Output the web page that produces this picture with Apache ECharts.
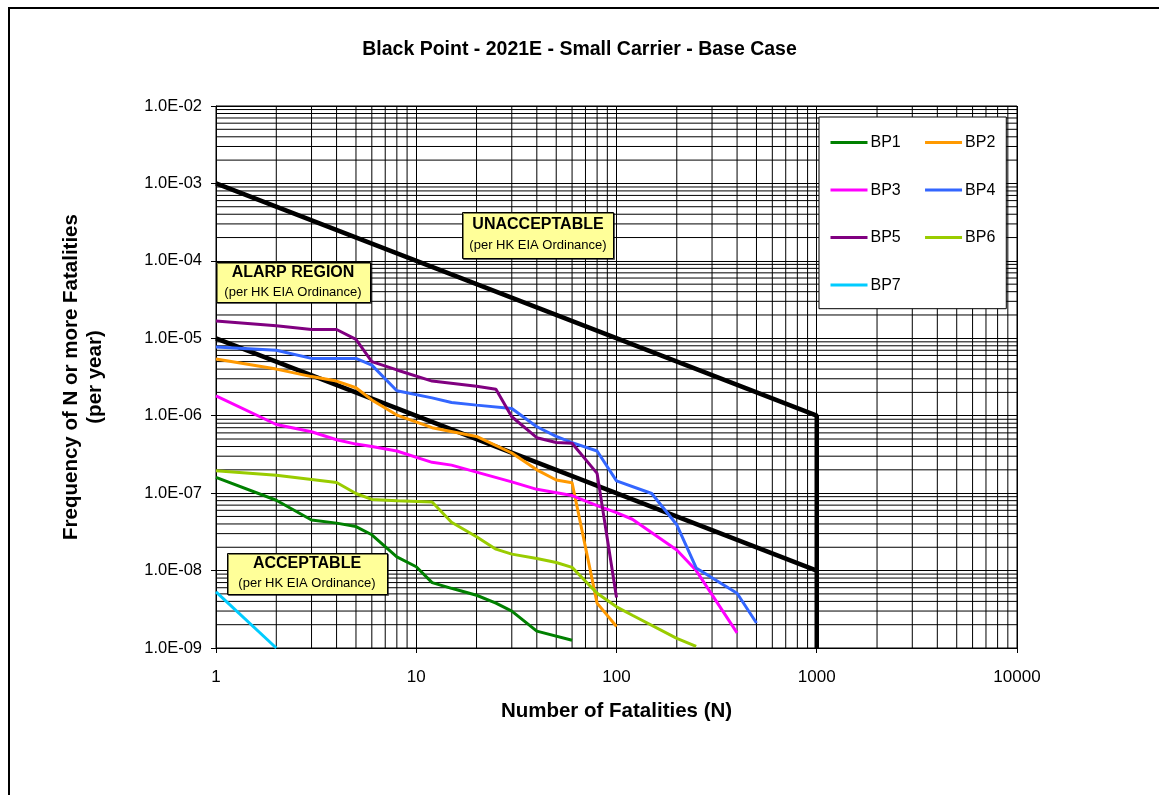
<!DOCTYPE html>
<html><head><meta charset="utf-8">
<script src="https://cdn.jsdelivr.net/npm/echarts@6/dist/echarts.min.js"></script>
<style>html,body{margin:0;padding:0;background:#fff}#c{width:1159px;height:795px}</style>
</head><body><div id="c"></div>
<script>
const FONT = 'Arial, "Liberation Sans", sans-serif';

// ---- data ----
const seriesNames = ['BP1','BP2','BP3','BP4','BP5','BP6','BP7'];
const bp1N = [1,2,3,4,5,6,8,10,12,15,20,25,30,40,60];
const bp1F = [1.6e-7,8.1e-8,4.5e-8,4.1e-8,3.7e-8,2.9e-8,1.5e-8,1.12e-8,7.0e-9,5.9e-9,4.8e-9,3.8e-9,3.0e-9,1.65e-9,1.26e-9];
const bp2N = [1,2,3,4,5,6,8,12,20,30,40,50,60,80,100];
const bp2F = [5.4e-6,4.0e-6,3.2e-6,2.8e-6,2.3e-6,1.6e-6,1.02e-6,7.0e-7,5.4e-7,3.3e-7,2.0e-7,1.48e-7,1.36e-7,3.8e-9,1.9e-9];
const bp3N = [1,2,3,4,5,6,8,12,15,20,30,40,60,80,100,120,200,250,400];
const bp3F = [1.8e-6,7.7e-7,6.2e-7,4.9e-7,4.3e-7,4.0e-7,3.5e-7,2.5e-7,2.3e-7,1.87e-7,1.4e-7,1.12e-7,9.3e-8,6.9e-8,5.6e-8,4.6e-8,1.84e-8,1.0e-8,1.57e-9];
const bp4N = [1,2,3,5,6,8,12,15,20,30,40,50,60,80,100,150,200,250,400,500];
const bp4F = [7.7e-6,7.0e-6,5.5e-6,5.5e-6,4.5e-6,2.1e-6,1.7e-6,1.48e-6,1.37e-6,1.24e-6,7.2e-7,5.4e-7,4.5e-7,3.5e-7,1.44e-7,9.9e-8,3.9e-8,1.08e-8,5.1e-9,2.1e-9];
const bp5N = [1,2,3,4,5,6,8,12,20,25,30,40,50,60,80,100];
const bp5F = [1.67e-5,1.45e-5,1.3e-5,1.3e-5,9.7e-6,5.0e-6,3.9e-6,2.8e-6,2.4e-6,2.2e-6,9.7e-7,5.2e-7,4.5e-7,4.4e-7,1.8e-7,4.5e-9];
const bp6N = [1,2,4,5,6,8,12,15,20,25,30,40,50,60,80,100,120,200,250];
const bp6F = [1.94e-7,1.7e-7,1.37e-7,9.9e-8,8.3e-8,8.0e-8,7.7e-8,4.2e-8,2.73e-8,1.89e-8,1.63e-8,1.43e-8,1.27e-8,1.1e-8,5.1e-9,3.4e-9,2.65e-9,1.33e-9,1.05e-9];
const bp7N = [1,2];
const bp7F = [5.3e-9,1.0e-9];
const upperN = [1,1000,1000];
const upperF = [1e-3,1e-6,1e-9];
const lowerN = [1,1000];
const lowerF = [1e-5,1e-8];
const yTickLabels = ['1.0E-09','1.0E-08','1.0E-07','1.0E-06','1.0E-05','1.0E-04','1.0E-03','1.0E-02'];
const xTickLabels = ['1','10','100','1000','10000'];

const colors = ['#008000','#FF9900','#FF00FF','#3366FF','#800080','#99CC00','#00CCFF'];
const allN = [bp1N,bp2N,bp3N,bp4N,bp5N,bp6N,bp7N];
const allF = [bp1F,bp2F,bp3F,bp4F,bp5F,bp6F,bp7F];
const zip = (a,b) => a.map((v,i)=>[v,b[i]]);

// minor grid values (2..9 x each decade)
const minorX = [], minorY = [];
for (let k=0;k<4;k++) for (let m=2;m<=9;m++) minorX.push(m*Math.pow(10,k));
for (let k=-9;k<-2;k++) for (let m=2;m<=9;m++) minorY.push(m*Math.pow(10,k));

const chart = echarts.init(document.getElementById('c'), null, {renderer:'canvas'});
const gridStyle = {color:'#000', width:1};
const vGrid = minorX.map(v=>({type:'line', data:[[v,1e-9],[v,1e-2]], symbol:'none', silent:true, z:1,
  lineStyle:gridStyle, emphasis:{disabled:true}}));
const hGrid = minorY.map(v=>({type:'line', data:[[1,v],[10000,v]], symbol:'none', silent:true, z:1,
  lineStyle:gridStyle, emphasis:{disabled:true}}));
const dataSeries = seriesNames.map((n,i)=>({
  name:n, type:'line', data: zip(allN[i],allF[i]), symbol:'none', showSymbol:false,
  lineStyle:{color:colors[i], width:3}, itemStyle:{color:colors[i]}, z:10, silent:true
}));

const option = {
  animation:false,
  backgroundColor:'#fff',
  title:{text:'Black Point - 2021E - Small Carrier - Base Case', left:'center', top:35,
    textStyle:{fontFamily:FONT, fontSize:19.5, fontWeight:'bold', color:'#000'}},
  grid:{left:216, top:106, width:801, height:542, show:true, borderColor:'#000', borderWidth:1, backgroundColor:'#fff'},
  legend:{
    data:seriesNames, left:819, top:117, width:170, orient:'horizontal',
    padding:[14,11,12,11.5], itemGap:24.3, itemWidth:37, itemHeight:3, icon:'rect',
    borderColor:'#000', borderWidth:1, backgroundColor:'#fff',
    textStyle:{fontFamily:FONT, fontSize:16, color:'#000', lineHeight:23.2, padding:[0,0,0,-2]},
    selectedMode:false
  },
  xAxis:{type:'log', logBase:10, min:1, max:10000,
    name:'Number of Fatalities (N)', nameLocation:'middle', nameGap:53,
    nameTextStyle:{fontFamily:FONT, fontSize:20.5, fontWeight:'bold', color:'#000'},
    axisLine:{show:true, lineStyle:{color:'#000', width:1}},
    axisTick:{show:true, inside:false, length:5, lineStyle:{color:'#000'}},
    axisLabel:{fontFamily:FONT, fontSize:17, color:'#000', margin:21,
      formatter:v=>xTickLabels[Math.round(Math.log10(v))]},
    splitLine:{show:true, lineStyle:{color:'#000', width:1}}
  },
  yAxis:{type:'log', logBase:10, min:1e-9, max:1e-2,
    name:'Frequency of N or more Fatalities\n(per year)', nameLocation:'middle', nameGap:109, nameRotate:90,
    nameTextStyle:{fontFamily:FONT, fontSize:20.5, fontWeight:'bold', color:'#000', lineHeight:24, align:'center'},
    axisLine:{show:true, lineStyle:{color:'#000', width:1}},
    axisTick:{show:true, inside:false, length:5, lineStyle:{color:'#000'}},
    axisLabel:{fontFamily:FONT, fontSize:16.5, color:'#000', margin:14,
      formatter:v=>yTickLabels[Math.round(Math.log10(v))+9]},
    splitLine:{show:true, lineStyle:{color:'#000', width:1}}
  },
  series: vGrid.concat(hGrid).concat([
    {name:'upper', type:'line', data:zip(upperN,upperF), symbol:'none', lineStyle:{color:'#000', width:4.5}, z:9, silent:true},
    {name:'lower', type:'line', data:zip(lowerN,lowerF), symbol:'none', lineStyle:{color:'#000', width:4.5}, z:9, silent:true}
  ]).concat(dataSeries),
  graphic:[
    {type:'rect', shape:{x:9, y:8, width:1200, height:900}, style:{fill:'none', stroke:'#000', lineWidth:2}, z:100, silent:true},
    // annotation boxes
    {type:'rect', shape:{x:462.5, y:212.5, width:151, height:46}, style:{fill:'#FFFF99', stroke:'#000', lineWidth:1, shadowColor:'rgba(0,0,0,0.5)', shadowOffsetX:1, shadowOffsetY:1}, z:50},
    {type:'text', x:538, y:225, style:{text:'UNACCEPTABLE', font:'bold 16px '+FONT, fill:'#000', align:'center', verticalAlign:'middle'}, z:51},
    {type:'text', x:538, y:245, style:{text:'(per HK EIA Ordinance)', font:'13px '+FONT, fill:'#000', align:'center', verticalAlign:'middle'}, z:51},
    {type:'rect', shape:{x:216.5, y:262.5, width:154, height:40}, style:{fill:'#FFFF99', stroke:'#000', lineWidth:1, shadowColor:'rgba(0,0,0,0.5)', shadowOffsetX:1, shadowOffsetY:1}, z:50},
    {type:'text', x:293, y:273, style:{text:'ALARP REGION', font:'bold 16px '+FONT, fill:'#000', align:'center', verticalAlign:'middle'}, z:51},
    {type:'text', x:293, y:292, style:{text:'(per HK EIA Ordinance)', font:'13px '+FONT, fill:'#000', align:'center', verticalAlign:'middle'}, z:51},
    {type:'rect', shape:{x:227.5, y:553.5, width:160, height:41}, style:{fill:'#FFFF99', stroke:'#000', lineWidth:1, shadowColor:'rgba(0,0,0,0.5)', shadowOffsetX:1, shadowOffsetY:1}, z:50},
    {type:'text', x:307, y:564, style:{text:'ACCEPTABLE', font:'bold 16px '+FONT, fill:'#000', align:'center', verticalAlign:'middle'}, z:51},
    {type:'text', x:307, y:583, style:{text:'(per HK EIA Ordinance)', font:'13px '+FONT, fill:'#000', align:'center', verticalAlign:'middle'}, z:51}
  ]
};
chart.setOption(option);
</script></body></html>
